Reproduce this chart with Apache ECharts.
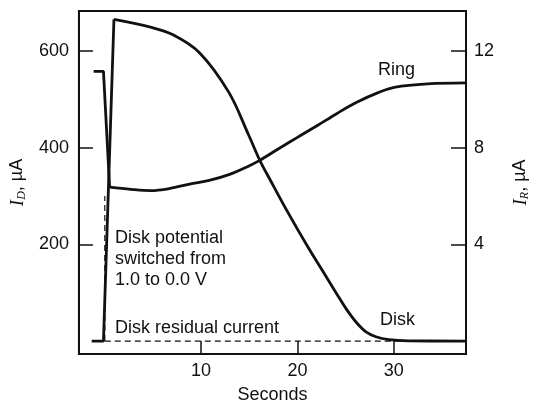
<!DOCTYPE html>
<html>
<head>
<meta charset="utf-8">
<script src="https://cdn.jsdelivr.net/npm/echarts@6/dist/echarts.min.js"></script>
<style>
  html, body { margin: 0; padding: 0; background: #fff; }
  #chart { width: 539px; height: 409px; }
</style>
</head>
<body>
<div id="chart"></div>
<script>
// Disk current (left axis, µA) vs time (s): switch-on rise, then decay
const timeDiskRise = [-1.36, -0.14, 0.95];
const diskRiseUA = [0, 0, 665];
const timeDisk = [0.95, 4.74, 7.08, 9.83, 12.88, 14.91, 16.13, 17.12, 18.98, 21.01, 23.05, 24.07, 25.08, 26.1, 27.12, 28.14, 29.5, 31.5, 37.5];
const diskUA = [665, 649, 633, 596, 514, 427, 372, 335, 267, 197, 131, 98, 66, 39, 19, 9, 3, 0.5, 0];

// Ring current (right axis, µA) vs time (s): drop at switch, then recovery
const timeRingDrop = [-1.16, -0.14, 0.5];
const ringDropUA = [11.15, 11.15, 6.36];
const timeRing = [0.5, 2.71, 4.74, 6.78, 8.81, 10.84, 12.88, 14.91, 16.13, 17.96, 20.0, 22.03, 24.07, 26.1, 28.44, 30.17, 33.53, 37.5];
const ringUA = [6.36, 6.27, 6.22, 6.31, 6.49, 6.64, 6.88, 7.23, 7.48, 7.93, 8.42, 8.90, 9.40, 9.86, 10.28, 10.50, 10.63, 10.67];

// dashed guides: switch instant and residual current level
const switchLine = [[0, 0], [0, 300]];
const residualLine = [[0, 0], [37.5, 0]];

const xTicks = [10, 20, 30];
const leftTicks = [200, 400, 600];
const rightTicks = [4, 8, 12];

const FONT = 'Liberation Sans, Arial, sans-serif';
const INK = '#111';

const chart = echarts.init(document.getElementById('chart'));

const nameRich = {
  i: { fontFamily: 'Liberation Serif', fontStyle: 'italic', fontSize: 19, color: INK },
  s: { fontFamily: 'Liberation Serif', fontStyle: 'italic', fontSize: 12, color: INK, verticalAlign: 'bottom', padding: [9, 0, 0, 0] },
  t: { fontFamily: FONT, fontSize: 18, color: INK }
};

function valueAxis(opts) {
  return Object.assign({
    type: 'value',
    splitLine: { show: false },
    axisLine: { show: true, onZero: false, lineStyle: { color: INK, width: 2 } },
    axisLabel: { color: INK, fontFamily: FONT, fontSize: 18 }
  }, opts);
}

function curve(name, axis, xs, ys, smooth) {
  return {
    name: name, type: 'line', yAxisIndex: axis,
    data: xs.map((t, i) => [t, ys[i]]),
    showSymbol: false, smooth: smooth,
    lineStyle: { color: INK, width: 2.8 }
  };
}

function dashed(name, pts) {
  return {
    name: name, type: 'line', yAxisIndex: 0, data: pts,
    showSymbol: false, lineStyle: { color: INK, width: 1.2, type: [6, 4] }
  };
}

chart.setOption({
  animation: false,
  grid: { left: 77, right: 67, top: 11, bottom: 53, show: true, borderColor: INK, borderWidth: 2 },
  xAxis: valueAxis({
    min: -2.686, max: 37.5,
    name: 'Seconds', nameLocation: 'middle', nameGap: 32,
    nameTextStyle: { color: INK, fontFamily: FONT, fontSize: 18 },
    axisTick: { show: true, inside: true, length: 13, customValues: xTicks, lineStyle: { color: INK, width: 1.5 } },
    axisLabel: { color: INK, fontFamily: FONT, fontSize: 18, margin: 8, customValues: xTicks }
  }),
  yAxis: [
    valueAxis({
      min: -26.7, max: 682.2, position: 'left',
      name: '{i|I}{s|D}{t|, µA}', nameLocation: 'middle', nameGap: 50, nameRotate: 90,
      nameTextStyle: { rich: nameRich },
      axisTick: { show: true, inside: true, length: 14, customValues: leftTicks, lineStyle: { color: INK, width: 1.5 } },
      axisLabel: { color: INK, fontFamily: FONT, fontSize: 18, margin: 10, customValues: leftTicks }
    }),
    valueAxis({
      min: -0.534, max: 13.644, position: 'right',
      name: '{i|I}{s|R}{t|, µA}', nameLocation: 'middle', nameGap: 44, nameRotate: 90,
      nameTextStyle: { rich: nameRich },
      axisTick: { show: true, inside: true, length: 15, customValues: rightTicks, lineStyle: { color: INK, width: 1.5 } },
      axisLabel: { color: INK, fontFamily: FONT, fontSize: 18, margin: 8, customValues: rightTicks }
    })
  ],
  series: [
    dashed('switch', switchLine),
    dashed('residual', residualLine),
    curve('Disk rise', 0, timeDiskRise, diskRiseUA, false),
    curve('Disk', 0, timeDisk, diskUA, 0.35),
    curve('Ring drop', 1, timeRingDrop, ringDropUA, false),
    curve('Ring', 1, timeRing, ringUA, 0.35)
  ],
  graphic: [
    { type: 'text', left: 378, top: 61, style: { text: 'Ring', font: '18px ' + FONT, fill: INK } },
    { type: 'text', left: 380, top: 311, style: { text: 'Disk', font: '18px ' + FONT, fill: INK } },
    { type: 'text', left: 115, top: 228, style: { text: 'Disk potential\nswitched from\n1.0 to 0.0 V', font: '18px ' + FONT, lineHeight: 21, fill: INK } },
    { type: 'text', left: 115, top: 319, style: { text: 'Disk residual current', font: '18px ' + FONT, fill: INK } }
  ]
});
</script>
</body>
</html>
